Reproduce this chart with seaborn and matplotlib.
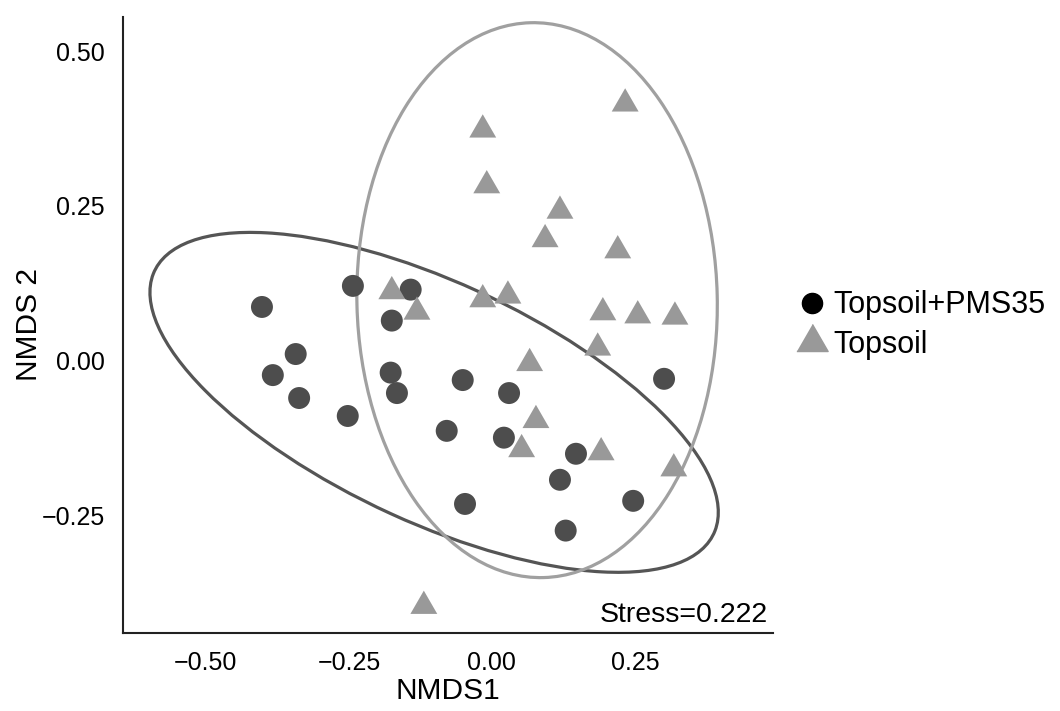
import numpy as np
import pandas as pd
import matplotlib
matplotlib.use("Agg")
import matplotlib.pyplot as plt
from matplotlib.lines import Line2D
from matplotlib.patches import Ellipse
import seaborn as sns

# NMDS scores
pms_x = [-0.402, -0.243, -0.142, -0.175, -0.343, -0.383, -0.337, -0.252, -0.177, -0.166,
         -0.051, -0.079, 0.030, 0.021, -0.047, 0.119, 0.147, 0.129, 0.247, 0.301]
pms_y = [0.087, 0.121, 0.115, 0.065, 0.011, -0.023, -0.060, -0.089, -0.019, -0.052,
         -0.031, -0.113, -0.052, -0.124, -0.231, -0.192, -0.150, -0.274, -0.226, -0.029]
top_x = [0.233, -0.016, -0.009, 0.119, 0.093, 0.220, -0.175, -0.131, -0.016, 0.028,
         0.194, 0.255, 0.320, 0.066, 0.185, 0.077, 0.052, 0.191, 0.318, -0.119]
top_y = [0.415, 0.373, 0.283, 0.242, 0.196, 0.178, 0.112, 0.079, 0.099, 0.105,
         0.078, 0.073, 0.071, -0.004, 0.021, -0.096, -0.143, -0.148, -0.174, -0.396]
groups = ["Topsoil+PMS35", "Topsoil"]
stress = 0.222

# 95% ellipses as drawn in the figure (centre, full width/height, angle in deg)
ell_cx = [-0.101, 0.079]
ell_cy = [-0.067, 0.098]
ell_w = [1.066, 0.630]
ell_h = [0.390, 0.896]
ell_angle = [-22.9, 1.5]
ell_color = ["#555555", "#a0a0a0"]

df = pd.DataFrame({
    "NMDS1": pms_x + top_x,
    "NMDS2": pms_y + top_y,
    "group": [groups[0]] * len(pms_x) + [groups[1]] * len(top_x),
})

# equilateral triangle centred on its centroid (like R pch 17)
tri = [(-1, -0.577), (1, -0.577), (0, 1.155)]

sns.set_style("white")
plt.rcParams["font.family"] = ["Liberation Sans", "DejaVu Sans"]
for k in ["text.color", "axes.labelcolor", "xtick.color", "ytick.color"]:
    plt.rcParams[k] = "black"

fig = plt.figure(figsize=(10.6, 7.11), dpi=100)
ax = fig.add_axes([0.116, 0.110, 0.613, 0.866])

for cx, cy, w, h, a, c in zip(ell_cx, ell_cy, ell_w, ell_h, ell_angle, ell_color):
    ax.add_patch(Ellipse((cx, cy), w, h, angle=a, fill=False, edgecolor=c, lw=2.3))

sns.scatterplot(data=df, x="NMDS1", y="NMDS2", hue="group", style="group",
                palette={groups[0]: "#4d4d4d", groups[1]: "#999999"},
                markers={groups[0]: "o", groups[1]: tri},
                size="group", sizes={groups[0]: 250, groups[1]: 500},
                linewidth=0, ax=ax, legend=False, zorder=3)

ax.set_xlim(-0.645, 0.491)
ax.set_ylim(-0.439, 0.555)
xt = [-0.5, -0.25, 0.0, 0.25]
yt = [-0.25, 0.0, 0.25, 0.5]
ax.set_xticks(xt)
ax.set_xticklabels([f"{v:.2f}".replace("-", "\u2212") for v in xt], fontsize=18)
ax.set_yticks(yt)
ax.set_yticklabels([f"{v:.2f}".replace("-", "\u2212") for v in yt], fontsize=18)
ax.tick_params(length=0, pad=13)
ax.set_xlabel("NMDS1", fontsize=21.5)
ax.set_ylabel("NMDS 2", fontsize=21.5)
ax.xaxis.set_label_coords(0.5, -0.072)
ax.yaxis.set_label_coords(-0.123, 0.5)

for s in ["top", "right"]:
    ax.spines[s].set_visible(False)
for s in ["left", "bottom"]:
    ax.spines[s].set_color("#222222")
    ax.spines[s].set_linewidth(1.5)

ax.text(0.992, 0.018, f"Stress={stress}", transform=ax.transAxes,
        ha="right", va="baseline", fontsize=20.5)

handles = [
    Line2D([], [], marker="o", color="black", ls="", markersize=14.5),
    Line2D([], [], marker=tri, color="#999999", ls="", markersize=26),
]
ax.legend(handles, groups, loc="center left", bbox_to_anchor=(0.7547, 0.543),
          bbox_transform=fig.transFigure, frameon=False, fontsize=22,
          borderaxespad=0, borderpad=0, handlelength=0.8, handletextpad=0.3,
          labelspacing=0.3)

fig.savefig("out.png", dpi=100)
